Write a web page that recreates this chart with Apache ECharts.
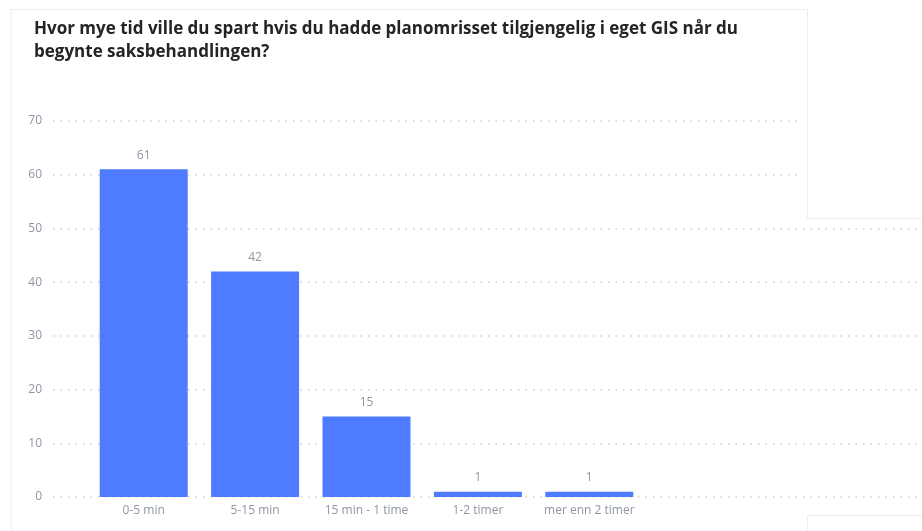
<!DOCTYPE html>
<html>
<head>
<meta charset="utf-8">
<script src="https://cdn.jsdelivr.net/npm/echarts@6/dist/echarts.min.js"></script>
<style>
  html, body { margin: 0; padding: 0; background: #fff; }
  #chart { width: 922px; height: 531px; }
</style>
</head>
<body>
<div id="chart"></div>
<script>
// data
const categories = ['0-5 min', '5-15 min', '15 min - 1 time', '1-2 timer', 'mer enn 2 timer'];
const answers = [61, 42, 15, 1, 1];
const yTicks = { min: 0, max: 70, step: 10 };

const titleText = 'Hvor mye tid ville du spart hvis du hadde planomrisset tilgjengelig i eget GIS når du\nbegynte saksbehandlingen?';

const chart = echarts.init(document.getElementById('chart'));

const greyText = '#8e95a5';
const dotLine = { color: '#cfcfcf', width: 1.5, type: [1.5, 6] };

const option = {
    animation: false,
    backgroundColor: '#fff',
    title: {
        text: titleText,
        left: 29,
        top: 13,
        textStyle: {
            fontFamily: 'Open Sans',
            fontSize: 17,
            fontWeight: 'bold',
            color: '#252423',
            lineHeight: 23
        }
    },
    grid: [
        // background grid with y labels and dotted lines
        { left: 53, right: 4, top: 121, bottom: 34 },
        // the bars
        { left: 88, width: 557, top: 121, bottom: 34 }
    ],
    xAxis: [
        { type: 'value', gridIndex: 0, show: false, min: 0, max: 1 },
        {
            type: 'category',
            gridIndex: 1,
            data: categories,
            axisLine: { show: false },
            axisTick: { show: false },
            axisLabel: { color: greyText, fontSize: 12, fontFamily: 'Open Sans', margin: 8, interval: 0 }
        }
    ],
    yAxis: [
        {
            type: 'value',
            gridIndex: 0,
            min: yTicks.min,
            max: yTicks.max,
            interval: yTicks.step,
            axisLine: { show: false },
            axisTick: { show: false },
            axisLabel: { color: greyText, fontSize: 12, fontFamily: 'Open Sans', margin: 11 },
            splitLine: { lineStyle: dotLine }
        },
        {
            type: 'value',
            gridIndex: 1,
            min: yTicks.min,
            max: yTicks.max,
            interval: yTicks.step,
            show: false,
            splitLine: { show: false }
        }
    ],
    series: [
        {
            type: 'bar',
            xAxisIndex: 1,
            yAxisIndex: 1,
            data: answers,
            barWidth: 88,
            itemStyle: { color: '#4e7bff' },
            label: {
                show: true,
                position: 'top',
                distance: 8,
                color: greyText,
                fontSize: 12,
                fontFamily: 'Open Sans'
            }
        }
    ],
    graphic: [
        // screenshot panel pieces
        {
            type: 'rect',
            shape: { x: 803, y: 9, width: 125, height: 209 },
            style: { fill: '#fff' },
            z: 10
        },
        {
            type: 'polyline',
            shape: { points: [[11, 531], [11, 9.5], [807.5, 9.5], [807.5, 218.5], [922, 218.5]] },
            style: { stroke: '#ececec', lineWidth: 1, fill: null },
            z: 11
        },
        {
            type: 'polyline',
            shape: { points: [[807.5, 531], [807.5, 515.5], [922, 515.5]] },
            style: { stroke: '#ececec', lineWidth: 1, fill: null },
            z: 11
        }
    ]
};

chart.setOption(option);
</script>
</body>
</html>
